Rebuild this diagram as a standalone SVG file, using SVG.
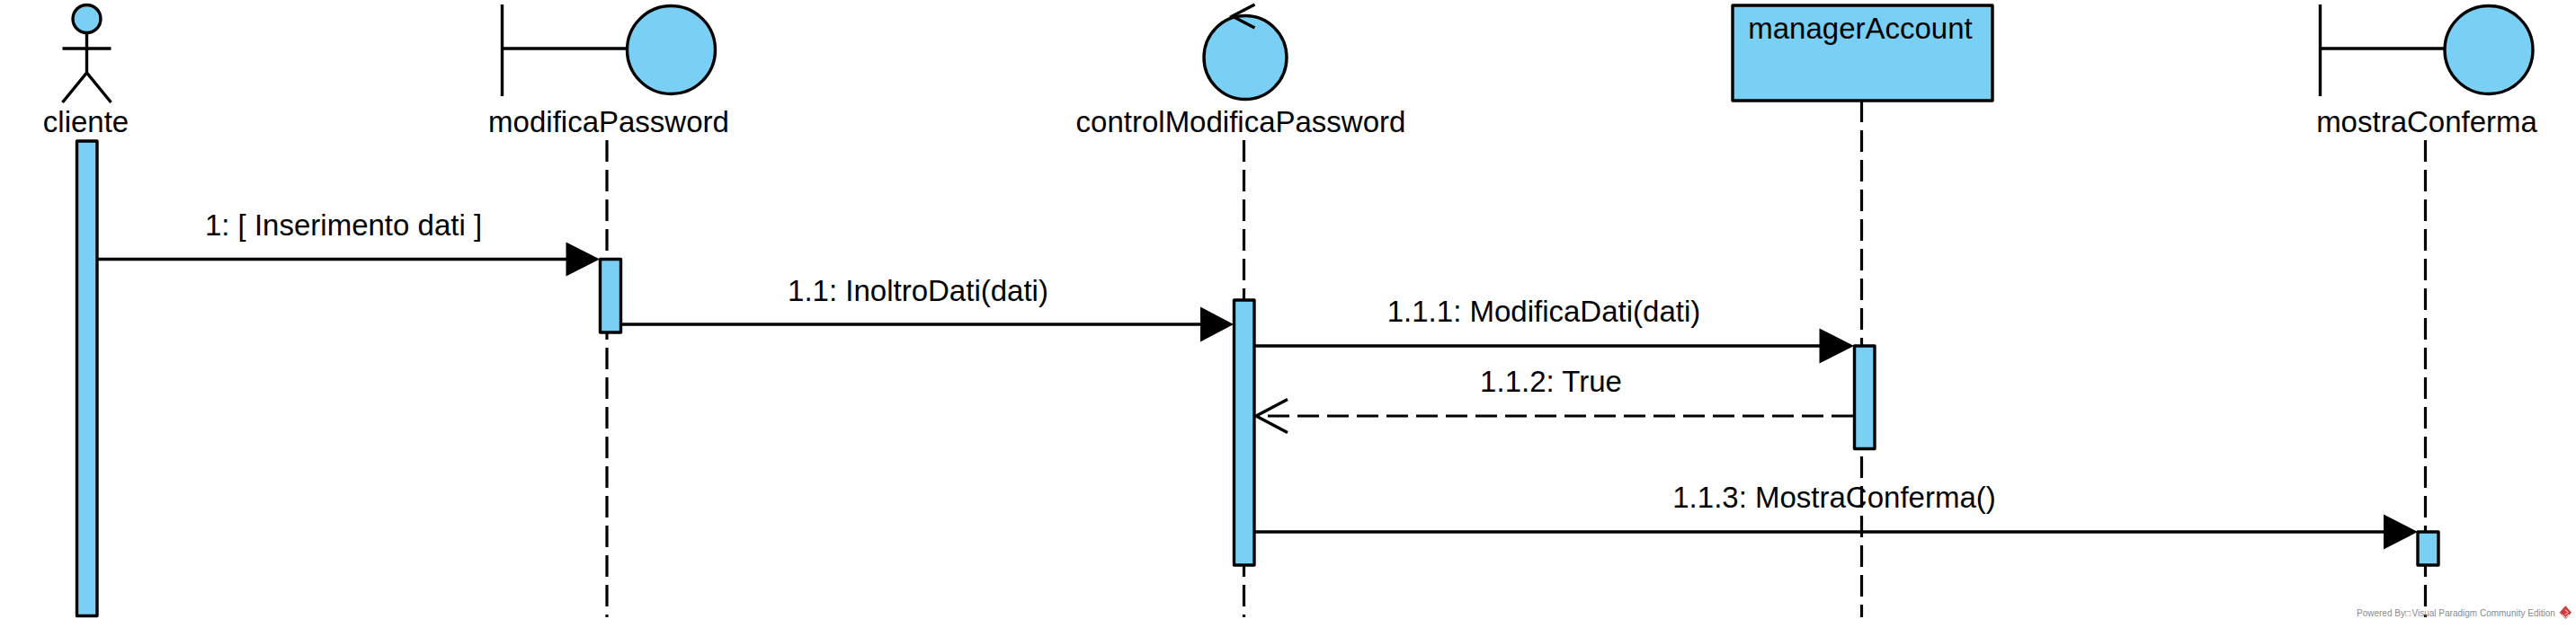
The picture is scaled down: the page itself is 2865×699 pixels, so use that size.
<svg xmlns="http://www.w3.org/2000/svg" width="2865" height="699" viewBox="0 0 2865 699">
<style>
text{font-family:"Liberation Sans",Arial,sans-serif;font-size:33px;fill:#000;text-anchor:middle}
.f{fill:#7ACFF5;stroke:#000;stroke-width:3.4;stroke-linejoin:round}
.l{fill:none;stroke:#000;stroke-width:3.4}
.ll{fill:none;stroke:#000;stroke-width:3.2;stroke-dasharray:24 9}
.h{fill:#000}
</style>
<rect width="2865" height="699" fill="#fff"/>
<g id="lifelines">
<path class="ll" d="M675 156V687"/>
<path class="ll" d="M1383.5 156V687"/>
<path class="ll" d="M2070.5 112V687"/>
<path class="ll" d="M2697.5 156V687"/>
</g>
<g id="node-cliente">
<circle class="f" cx="96.5" cy="21" r="15.5"/>
<path class="l" d="M96.5 37V81M69.5 54H123.5M69.5 114L96.5 81L123.5 114"/>
<text x="95.5" y="146.5">cliente</text>
<rect class="f" x="85.5" y="157" width="22.5" height="528.5"/>
</g>
<g id="node-modificaPassword">
<path class="l" d="M558.5 5V107M558.5 54H697"/>
<circle class="f" cx="746.5" cy="55.5" r="49"/>
<text x="677" y="146.5">modificaPassword</text>
<rect class="f" x="667.5" y="288.5" width="23" height="81.5"/>
</g>
<g id="node-controlModificaPassword">
<ellipse class="f" cx="1385" cy="64" rx="46" ry="46.5"/>
<path class="l" d="M1395.5 5L1370.5 18L1395.5 31"/>
<text x="1380" y="146.5">controlModificaPassword</text>
<rect class="f" x="1372.5" y="334" width="22.5" height="295"/>
</g>
<g id="node-managerAccount">
<rect class="f" x="1927" y="6" width="289" height="106"/>
<text x="2069" y="42.5">managerAccount</text>
<rect class="f" x="2062.5" y="385" width="22.5" height="114.5"/>
</g>
<g id="node-mostraConferma">
<path class="l" d="M2580.5 5V107M2580.5 54H2719"/>
<circle class="f" cx="2768" cy="55.5" r="49"/>
<text x="2699" y="146.5">mostraConferma</text>
<rect class="f" x="2689" y="592" width="23" height="37"/>
</g>
<g id="connectors">
<path class="l" d="M109 288.5H632"/><path class="h" d="M629.5 269.5L667 288.5L629.5 307.5Z"/>
<path class="l" d="M691 361H1337"/><path class="h" d="M1335 341.5L1372 361L1335 380.5Z"/>
<path class="l" d="M1396 385H2026"/><path class="h" d="M2023.5 365.5L2062 385L2023.5 404.5Z"/>
<path class="ll" d="M2061 463H1397"/><path class="l" d="M1432 444.5L1397 463L1432 481.5"/>
<path class="l" d="M1396 592H2653"/><path class="h" d="M2651 572.5L2689 592L2651 611.5Z"/>
</g>
<g id="labels">
<text x="382" y="262">1: [ Inserimento dati ]</text>
<text x="1021" y="335">1.1: InoltroDati(dati)</text>
<text x="1717" y="358">1.1.1: ModificaDati(dati)</text>
<text x="1725" y="436">1.1.2: True</text>
<text x="2040" y="565">1.1.3: MostraConferma()</text>
</g>
<g id="watermark">
<text x="2621" y="686" style="font-size:10px;fill:#8a8a8a;text-anchor:start">Powered By□<tspan x="2682.5">Visual Paradigm Community Edition</tspan></text>
<path fill="#d03a3a" d="M2853.3 674.3L2860 681.7L2853.3 689L2846.7 681.7Z"/>
<path fill="none" stroke="#fff" stroke-width="1" d="M2853 678.5L2856 681.5L2853 684.5M2849.5 684L2853.3 687.5L2857 684"/>
</g>
</svg>
